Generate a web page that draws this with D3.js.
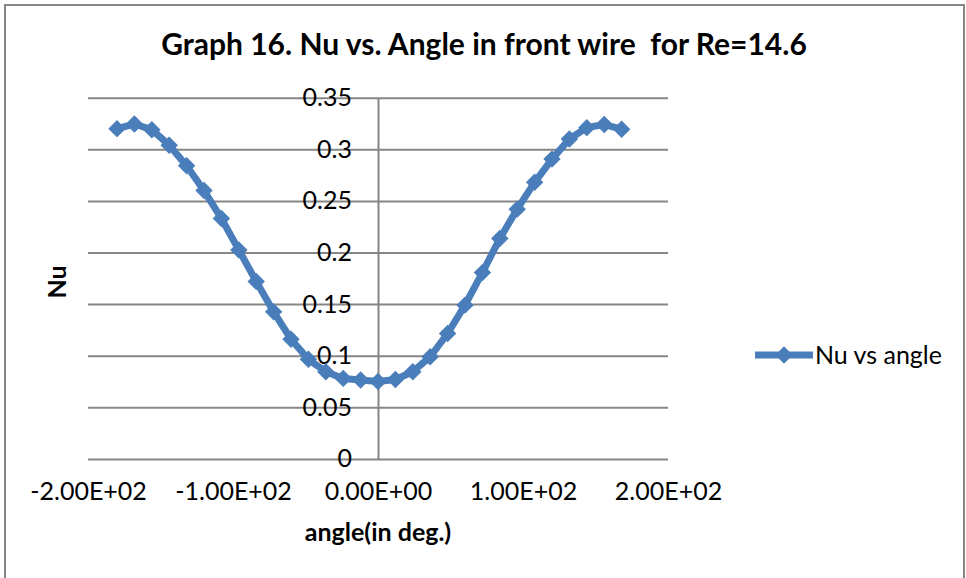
<!DOCTYPE html>
<html>
<head>
<meta charset="utf-8">
<script src="https://cdn.jsdelivr.net/npm/d3@7"></script>
<style>
  html, body { margin: 0; padding: 0; background: #fff; }
  svg { display: block; }
  text { font-family: Lato, "Noto Sans", sans-serif; fill: #000; }
</style>
</head>
<body>
<svg id="chart" width="966" height="578"></svg>
<script>
// Angle (degrees) around the front wire and the measured Nusselt number
const angles = [-180, -168, -156, -144, -132, -120, -108, -96, -84, -72, -60, -48, -36, -24, -12,
                0, 12, 24, 36, 48, 60, 72, 84, 96, 108, 120, 132, 144, 156, 168];
const nu = [0.320, 0.3245, 0.319, 0.304, 0.284, 0.260, 0.233, 0.2025, 0.172, 0.1425, 0.116, 0.0965, 0.0845, 0.078, 0.0765,
            0.075, 0.077, 0.0845, 0.099, 0.1215, 0.149, 0.1805, 0.2135, 0.242, 0.268, 0.2905, 0.310, 0.321, 0.324, 0.3195];
const xTicks = [-200, -100, 0, 100, 200];
const yTicks = [0, 0.05, 0.1, 0.15, 0.2, 0.25, 0.3, 0.35];
const yTickLabels = ["0", "0.05", "0.1", "0.15", "0.2", "0.25", "0.3", "0.35"];

const title = "Graph 16. Nu vs. Angle in front wire  for Re=14.6";
const xTitle = "angle(in deg.)";
const yTitle = "Nu";
const seriesName = "Nu vs angle";

const blue = "#4A7EBB";
const gridGray = "#868686";

const svg = d3.select("#chart");

// outer chart frame
svg.append("rect")
  .attr("x", 5).attr("y", 5).attr("width", 959).attr("height", 600)
  .attr("fill", "#fff").attr("stroke", gridGray).attr("stroke-width", 2);

const x = d3.scaleLinear().domain([-200, 200]).range([88, 668]);
const y = d3.scaleLinear().domain([0, 0.35]).range([458.9, 97.7]);

// scientific labels like 1.00E+02
function sci(v) {
  const [m, e] = v.toExponential(2).split("e");
  const sign = e[0] === "-" ? "-" : "+";
  const digits = e.replace(/[+-]/, "").padStart(2, "0");
  return m + "E" + sign + digits;
}

// horizontal gridlines
const grid = svg.append("g")
  .attr("transform", `translate(${x(-200)},0)`)
  .call(d3.axisLeft(y).tickValues(yTicks).tickSize(-(x(200) - x(-200))).tickFormat(""));
grid.select(".domain").remove();
grid.selectAll(".tick line").attr("stroke", gridGray).attr("stroke-width", 2);

// vertical axis at angle 0
const yAxis = svg.append("g")
  .attr("transform", `translate(${x(0)},0)`)
  .call(d3.axisLeft(y).tickValues(yTicks).tickSize(0).tickPadding(26)
    .tickFormat((d, i) => yTickLabels[i]));
yAxis.select(".domain").attr("stroke", gridGray).attr("stroke-width", 2);
yAxis.selectAll("text")
  .style("font-family", "Lato, sans-serif").style("font-size", "25px").attr("fill", "#000");

// horizontal axis labels
const xAxis = svg.append("g")
  .attr("transform", `translate(0,${y(0)})`)
  .call(d3.axisBottom(x).tickValues(xTicks).tickSize(0).tickPadding(23).tickFormat(sci));
xAxis.select(".domain").remove();
xAxis.selectAll("text")
  .style("font-family", "Lato, sans-serif").style("font-size", "25px").attr("fill", "#000");

// series line and diamond markers
const pts = angles.map((a, i) => [a, nu[i]]);
svg.append("path")
  .datum(pts)
  .attr("fill", "none")
  .attr("stroke", blue)
  .attr("stroke-width", 7)
  .attr("stroke-linejoin", "round")
  .attr("d", d3.line().x(d => x(d[0])).y(d => y(d[1])));

const diamond = d3.symbol().type(d3.symbolSquare).size(128);
svg.append("g").selectAll("path")
  .data(pts)
  .join("path")
  .attr("d", diamond)
  .attr("transform", d => `translate(${x(d[0])},${y(d[1])}) rotate(45)`)
  .attr("fill", blue)
  .attr("stroke", blue)
  .attr("stroke-width", 1);

// titles
svg.append("text")
  .attr("x", 484).attr("y", 55)
  .attr("text-anchor", "middle")
  .attr("xml:space", "preserve")
  .style("white-space", "pre")
  .style("font-size", "30px").style("font-weight", "bold")
  .text(title);

svg.append("text")
  .attr("x", 378).attr("y", 541)
  .attr("text-anchor", "middle")
  .style("font-size", "25px").style("font-weight", "bold")
  .text(xTitle);

svg.append("text")
  .attr("transform", "translate(66,282) rotate(-90)")
  .attr("text-anchor", "middle")
  .style("font-size", "25px").style("font-weight", "bold")
  .text(yTitle);

// legend
const legend = svg.append("g").attr("transform", "translate(755,355)");
legend.append("line")
  .attr("x1", 0).attr("x2", 58).attr("y1", 0).attr("y2", 0)
  .attr("stroke", blue).attr("stroke-width", 7);
legend.append("path")
  .attr("d", diamond)
  .attr("transform", "translate(29,0) rotate(45)")
  .attr("fill", blue).attr("stroke", blue).attr("stroke-width", 1);
legend.append("text")
  .attr("x", 60).attr("y", 0)
  .attr("dy", "0.35em")
  .style("font-size", "25px")
  .text(seriesName);
</script>
</body>
</html>
